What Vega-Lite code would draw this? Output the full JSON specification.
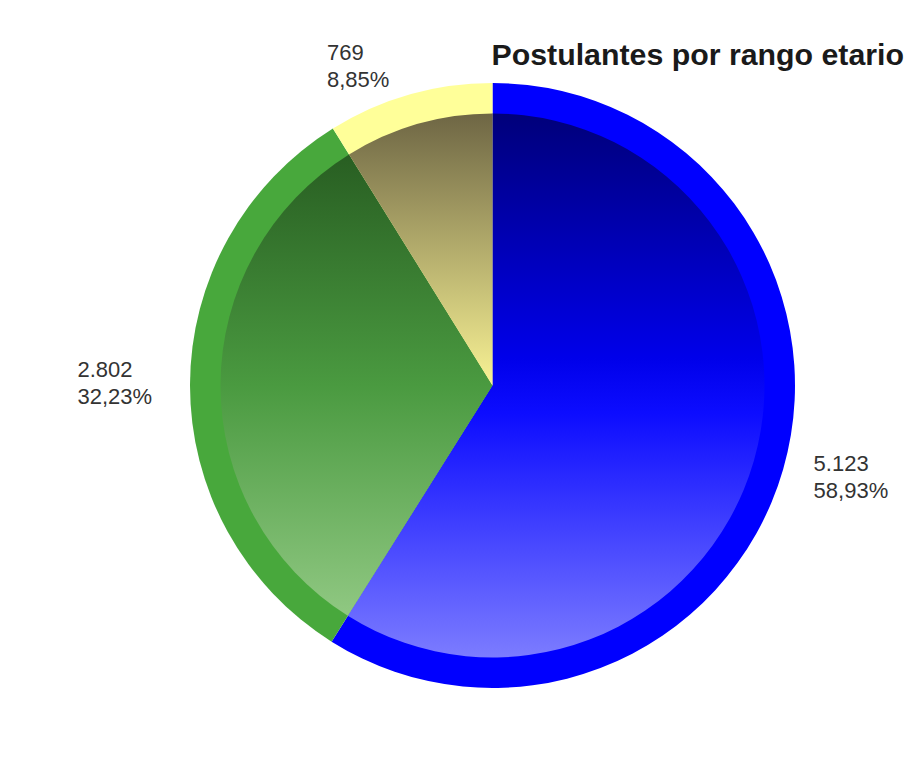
{
  "$schema": "https://vega.github.io/schema/vega-lite/v6.json",
  "width": 851,
  "height": 627,
  "autosize": "none",
  "padding": {"left": 67, "top": 72, "right": 0, "bottom": 62},
  "background": "white",
  "config": {
    "view": {"stroke": null},
    "locale": {"number": {"decimal": ",", "thousands": ".", "grouping": [3], "currency": ["$", ""]}}
  },
  "title": {
    "text": "Postulantes por rango etario",
    "anchor": "end",
    "frame": "group",
    "orient": "top",
    "offset": -134,
    "dx": -14,
    "baseline": "alphabetic",
    "font": "Liberation Sans",
    "fontSize": 30.3,
    "fontWeight": "bold",
    "color": "#1a1a1a"
  },
  "data": {
    "values": [
      {"rango": "18 a 30 años", "cantidad": 5123, "porcentaje": 0.5893},
      {"rango": "31 a 45 años", "cantidad": 2802, "porcentaje": 0.3223},
      {"rango": "46 años y más", "cantidad": 769, "porcentaje": 0.0885}
    ]
  },
  "encoding": {
    "theta": {"field": "cantidad", "type": "quantitative", "stack": true},
    "order": {"field": "cantidad", "type": "quantitative", "sort": "descending"},
    "detail": {"field": "rango", "type": "nominal"}
  },
  "layer": [
    {
      "mark": {"type": "arc", "radius": 302.5},
      "encoding": {
        "color": {
          "condition": [
            {"test": "datum.rango === '18 a 30 años'", "value": "#0000ff"},
            {"test": "datum.rango === '31 a 45 años'", "value": "#48a83c"}
          ],
          "value": "#ffff99"
        }
      }
    },
    {
      "mark": {"type": "arc", "radius": 272},
      "encoding": {
        "color": {
          "condition": [
            {"test": "datum.rango === '18 a 30 años'", "value": {"gradient": "linear", "x1": 0, "y1": 0, "x2": 0, "y2": 1, "stops": [{"offset": 0, "color": "#00007a"}, {"offset": 0.45, "color": "#0000ea"}, {"offset": 0.55, "color": "#0c0cff"}, {"offset": 1, "color": "#7c7cff"}]}},
            {"test": "datum.rango === '31 a 45 años'", "value": {"gradient": "linear", "x1": 0, "y1": 0, "x2": 0, "y2": 1, "stops": [{"offset": 0, "color": "#285e22"}, {"offset": 0.5, "color": "#4a9a40"}, {"offset": 1, "color": "#90c882"}]}}
          ],
          "value": {"gradient": "linear", "x1": 0, "y1": 0, "x2": 0, "y2": 1, "stops": [{"offset": 0, "color": "#6e6644"}, {"offset": 1, "color": "#f8f294"}]}
        }
      }
    },
    {
      "mark": {"type": "text", "radius": 330, "align": "left", "baseline": "alphabetic", "dx": 4, "dy": -6, "font": "Liberation Sans", "fontSize": 22, "color": "#333333"},
      "encoding": {"text": {"condition": {"test": "datum.rango === '18 a 30 años'", "field": "cantidad", "type": "quantitative", "format": ",d"}, "value": ""}}
    },
    {
      "mark": {"type": "text", "radius": 330, "align": "left", "baseline": "alphabetic", "dx": 4, "dy": 21, "font": "Liberation Sans", "fontSize": 22, "color": "#333333"},
      "encoding": {"text": {"condition": {"test": "datum.rango === '18 a 30 años'", "field": "porcentaje", "type": "quantitative", "format": ".2%"}, "value": ""}}
    },
    {
      "mark": {"type": "text", "radius": 415, "align": "left", "baseline": "alphabetic", "dx": 0, "dy": -7, "font": "Liberation Sans", "fontSize": 22, "color": "#333333"},
      "encoding": {"text": {"condition": {"test": "datum.rango === '31 a 45 años'", "field": "cantidad", "type": "quantitative", "format": ",d"}, "value": ""}}
    },
    {
      "mark": {"type": "text", "radius": 415, "align": "left", "baseline": "alphabetic", "dx": 0, "dy": 20, "font": "Liberation Sans", "fontSize": 22, "color": "#333333"},
      "encoding": {"text": {"condition": {"test": "datum.rango === '31 a 45 años'", "field": "porcentaje", "type": "quantitative", "format": ".2%"}, "value": ""}}
    },
    {
      "mark": {"type": "text", "radius": 330, "align": "left", "baseline": "alphabetic", "dx": -75, "dy": -8, "font": "Liberation Sans", "fontSize": 22, "color": "#333333"},
      "encoding": {"text": {"condition": {"test": "datum.rango === '46 años y más'", "field": "cantidad", "type": "quantitative", "format": ",d"}, "value": ""}}
    },
    {
      "mark": {"type": "text", "radius": 330, "align": "left", "baseline": "alphabetic", "dx": -75, "dy": 19, "font": "Liberation Sans", "fontSize": 22, "color": "#333333"},
      "encoding": {"text": {"condition": {"test": "datum.rango === '46 años y más'", "field": "porcentaje", "type": "quantitative", "format": ".2%"}, "value": ""}}
    }
  ]
}
